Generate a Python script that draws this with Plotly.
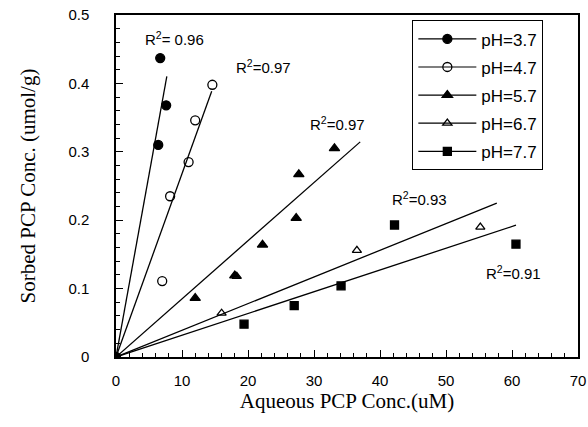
import numpy as np
import plotly.graph_objects as go

# Measured sorption data (aqueous conc. in uM, sorbed conc. in umol/g)
ph_labels = ["pH=3.7", "pH=4.7", "pH=5.7", "pH=6.7", "pH=7.7"]

x_ph37 = [0.0, 6.7, 7.6, 6.4]
y_ph37 = [0.0, 0.437, 0.368, 0.310]

x_ph47 = [7.0, 8.2, 11.0, 12.0, 14.6]
y_ph47 = [0.111, 0.235, 0.285, 0.346, 0.398]

x_ph57 = [12.0, 18.0, 22.2, 27.3, 27.7, 33.1]
y_ph57 = [0.086, 0.119, 0.164, 0.203, 0.267, 0.305]

x_ph67 = [16.0, 18.3, 36.5, 55.2]
y_ph67 = [0.064, 0.118, 0.156, 0.190]

x_ph77 = [19.4, 27.0, 34.1, 42.2, 60.6]
y_ph77 = [0.048, 0.075, 0.104, 0.193, 0.165]

# Linear fits through the origin: slope and extent of each fitted line
fit_slope = [0.0533, 0.0268, 0.0085, 0.0039, 0.00318]
fit_x_end = [7.7, 14.5, 37.0, 57.7, 60.6]
r2_text = ["R<sup>2</sup>= 0.96", "R<sup>2</sup>=0.97", "R<sup>2</sup>=0.97",
           "R<sup>2</sup>=0.93", "R<sup>2</sup>=0.91"]
r2_x = [8.8, 22.3, 33.5, 46.0, 60.3]
r2_y = [0.466, 0.424, 0.342, 0.232, 0.123]

series_x = [x_ph37, x_ph47, x_ph57, x_ph67, x_ph77]
series_y = [y_ph37, y_ph47, y_ph57, y_ph67, y_ph77]
symbols = ["circle", "circle-open", "triangle-up", "triangle-up-open", "square"]
sizes = [9, 9, 9, 8, 8]

fig = go.Figure()

for i in range(5):
    xe = np.array([0.0, fit_x_end[i]])
    fig.add_trace(go.Scatter(
        x=xe, y=fit_slope[i] * xe, mode="lines",
        line=dict(color="black", width=1.3), showlegend=False, hoverinfo="skip"))

for i in range(5):
    fig.add_trace(go.Scatter(
        x=series_x[i], y=series_y[i], mode="markers",
        marker=dict(symbol=symbols[i], size=sizes[i], color="black",
                    line=dict(color="black", width=1.3)),
        showlegend=False, name=ph_labels[i]))
    # legend entry: line with marker, one group per entry for even spacing
    fig.add_trace(go.Scatter(
        x=[None], y=[None], mode="lines+markers", name=ph_labels[i],
        legendgroup=ph_labels[i],
        line=dict(color="black", width=1.2),
        marker=dict(symbol=symbols[i], size=sizes[i], color="black",
                    line=dict(color="black", width=1.3))))

for i in range(5):
    fig.add_annotation(x=r2_x[i], y=r2_y[i], text=r2_text[i], showarrow=False,
                       font=dict(family="Liberation Sans, Arial", size=15, color="black"))

axis_common = dict(
    showline=True, mirror=True, linecolor="black", linewidth=1.5,
    ticks="inside", ticklen=7, tickwidth=1.2, tickcolor="black",
    showgrid=False, zeroline=False,
    tickfont=dict(family="Liberation Sans, Arial", size=15, color="black"),
)

fig.update_xaxes(
    range=[0, 70], dtick=10, tick0=0, ticklabelstandoff=9,
    minor=dict(dtick=2, ticks="inside", ticklen=4, tickcolor="black", tickwidth=1),
    title=dict(text="Aqueous PCP Conc.(uM)", standoff=0,
               font=dict(family="Liberation Serif, Times New Roman", size=21, color="black")),
    **axis_common)
fig.update_yaxes(
    range=[0, 0.5], dtick=0.1, tick0=0, ticklabelstandoff=22,
    minor=dict(dtick=0.02, ticks="inside", ticklen=4, tickcolor="black", tickwidth=1),
    title=dict(text="Sorbed PCP Conc. (umol/g)", standoff=27,
               font=dict(family="Liberation Serif, Times New Roman", size=21, color="black")),
    **axis_common)

fig.update_layout(
    width=588, height=427,
    margin=dict(l=116, r=10, t=15, b=70, autoexpand=False),
    paper_bgcolor="white", plot_bgcolor="white",
    legend=dict(x=0.641, y=0.985, xanchor="left", yanchor="top",
                bordercolor="black", borderwidth=1.2, bgcolor="white",
                font=dict(family="Liberation Sans, Arial", size=17, color="black"),
                itemwidth=58, tracegroupgap=3),
)

fig.write_html("out.html")
